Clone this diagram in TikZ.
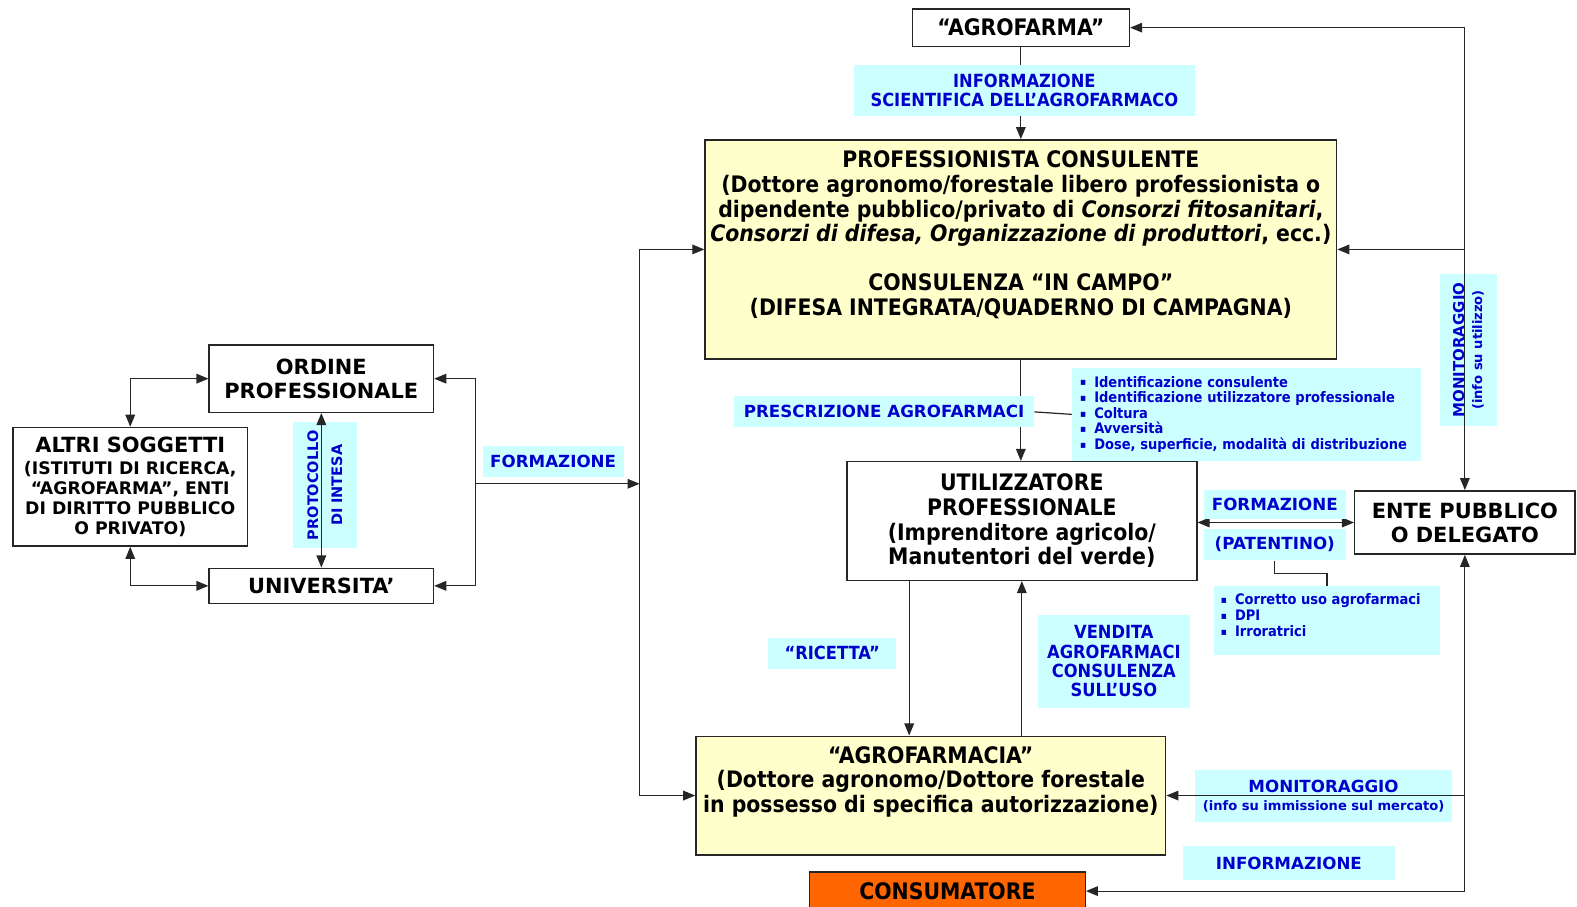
\documentclass[tikz,border=0pt]{standalone}
\usepackage{fontspec}
\setmainfont{DejaVu Sans}
\newfontfamily\cond{DejaVuSansCondensed}[Extension=.ttf, UprightFont=*, BoldFont=*-Bold, ItalicFont=*-Oblique, BoldItalicFont=*-BoldOblique]
\usepackage{tikz}
\usetikzlibrary{arrows.meta, positioning, calc}
\definecolor{labelblue}{RGB}{0,0,204}
\definecolor{labelcyan}{RGB}{204,255,255}
\definecolor{boxyellow}{RGB}{255,255,204}
\definecolor{consorange}{RGB}{255,102,0}
\newcommand{\bul}{\makebox[7pt][l]{\fontsize{5}{5}\selectfont\raisebox{0.6pt}{▪}}}

\begin{document}
\begin{tikzpicture}[
    x=0.5pt, y=-0.5pt,
    box/.style={draw=black!85, line width=0.7pt, fill=white, inner sep=0pt, align=center, font=\bfseries\fontsize{10.4}{12}\selectfont},
    narrowbox/.style={box, font=\cond\bfseries\fontsize{11.3}{12.25}\selectfont},
    bluetag/.style={fill=labelcyan, text=labelblue, inner sep=0pt, align=center, font=\bfseries\fontsize{8.3}{9}\selectfont},
    narrowtag/.style={bluetag, font=\cond\bfseries\fontsize{9}{9.6}\selectfont},
    listtext/.style={text=labelblue, inner sep=0pt, align=left, font=\cond\bfseries\fontsize{7.2}{7.75}\selectfont},
    conn/.style={draw=black!85, line width=0.6pt},
    arr/.style={conn, -{Triangle[length=6pt,width=4.8pt]}},
    arrs/.style={conn, {Triangle[length=6pt,width=4.8pt]}-{Triangle[length=6pt,width=4.8pt]}}
]
    \fill[white] (0,0) rectangle (1568,901);
    \useasboundingbox (0,0) rectangle (1568,901);

    % labels lying under the lines
    \node[bluetag, rotate=90, minimum width=62.5pt, minimum height=32pt, font=\bfseries\fontsize{7.2}{12}\selectfont] (protocollo) at (323,482.5) {PROTOCOLLO\\DI INTESA};
    \node[bluetag, rotate=90, minimum width=76pt, minimum height=28pt] (monitorU) at (1460,348) {{\fontsize{7.45}{10}\selectfont MONITORAGGIO}\\{\fontsize{6.5}{10}\selectfont (info su utilizzo)}};
    \node[bluetag, minimum width=128pt, minimum height=25.5pt] (monitorM) at (1316,791.5) {MONITORAGGIO\\{\fontsize{6.5}{9}\selectfont (info su immissione sul mercato)}};

    % left group
    \node[box, minimum width=111.5pt, minimum height=33.5pt] (ordine) at (319.5,376.5) {ORDINE\\PROFESSIONALE};
    \node[box, minimum width=111.5pt, minimum height=17.5pt] (universita) at (319.5,582.5) {UNIVERSITA’};
    \node[box, minimum width=116.5pt, minimum height=59pt] (altri) at (129.5,484) {ALTRI SOGGETTI\\[-1pt]{\fontsize{8.6}{9.75}\selectfont (ISTITUTI DI RICERCA,}\\[-2pt]{\fontsize{8.6}{9.75}\selectfont “AGROFARMA”, ENTI}\\[-2pt]{\fontsize{8.6}{9.75}\selectfont DI DIRITTO PUBBLICO}\\[-2pt]{\fontsize{8.6}{9.75}\selectfont O PRIVATO)}};

    % main chain
    \node[narrowbox, minimum width=108pt, minimum height=18.5pt] (agrofarma) at (1015,27.5) {“AGROFARMA”};
    \node[narrowbox, fill=boxyellow, minimum width=314pt, minimum height=109pt] (consulente) at (1015,248) {};
    \node[narrowbox, draw=none, fill=none, below=5.5pt of consulente.north] (consulenteTxt) {PROFESSIONISTA CONSULENTE\\(Dottore agronomo/forestale libero professionista o\\dipendente pubblico/privato di \textit{Consorzi fitosanitari},\\\textit{Consorzi di difesa, Organizzazione di produttori}, ecc.)\\[12.25pt]CONSULENZA “IN CAMPO”\\(DIFESA INTEGRATA/QUADERNO DI CAMPAGNA)};
    \node[narrowbox, minimum width=174pt, minimum height=59pt] (utilizzatore) at (1016,518) {UTILIZZATORE\\PROFESSIONALE\\(Imprenditore agricolo/\\Manutentori del verde)};
    \node[box, minimum width=109.5pt, minimum height=31.5pt] (ente) at (1456.5,519.5) {ENTE PUBBLICO\\O DELEGATO};
    \node[narrowbox, fill=boxyellow, minimum width=233.5pt, minimum height=59pt] (agrofarmacia) at (925.5,791) {};
    \node[narrowbox, draw=none, fill=none, below=5pt of agrofarmacia.north] (agrofarmaciaTxt) {“AGROFARMACIA”\\(Dottore agronomo/Dottore forestale\\in possesso di specifica autorizzazione)};
    \node[narrowbox, fill=consorange, minimum width=137pt, minimum height=19pt] (consumatore) at (942,886) {CONSUMATORE};

    % connectors
    \coordinate (fork) at (473,481);
    \coordinate (bus) at (636,481);
    \coordinate (giroSu) at (ente.north |- agrofarma.east);
    \coordinate (giroGiu) at (ente.south |- consumatore.east);
    \coordinate (ricettaA) at ($(utilizzatore.south)+(-112,0)$);

    \draw[arrs] (altri.north) |- (ordine.west);
    \draw[arrs] (altri.south) |- (universita.west);
    \draw[arrs] (ordine.south) -- (universita.north);
    \draw[arr] (fork) |- (ordine.east);
    \draw[arr] (fork) |- (universita.east);
    \draw[arr] (fork) -- (bus);
    \draw[arr] (bus) |- (consulente.west);
    \draw[arr] (bus) |- (agrofarmacia.west);

    \draw[arr] (agrofarma.south) -- (consulente.north);
    \draw[arr] (consulente.south) -- (consulente.south |- utilizzatore.north);
    \draw[arr] (ricettaA) -- (ricettaA |- agrofarmacia.north);
    \draw[arr] (utilizzatore.south |- agrofarmacia.north) -- (utilizzatore.south);
    \draw[arrs] (utilizzatore.east |- ente.west) -- (ente.west);

    \draw[arr] (giroSu) -- (agrofarma.east);
    \draw[arr] (giroSu) -- (ente.north);
    \draw[arr] (ente.north |- consulente.east) -- (consulente.east);
    \draw[arr] (giroGiu) -- (consumatore.east);
    \draw[arr] (giroGiu) -- (ente.south);
    \draw[arr] (ente.south |- agrofarmacia.east) -- (agrofarmacia.east);

    % labels lying over the lines
    \node[narrowtag, minimum width=169.5pt, minimum height=25pt] (infosci) at (1018.5,90) {INFORMAZIONE\\SCIENTIFICA DELL’AGROFARMACO};
    \node[bluetag, minimum width=70pt, minimum height=15.5pt] (formazioneA) at (550,458.5) {FORMAZIONE};
    \node[bluetag, minimum width=149pt, minimum height=15.5pt] (prescrizione) at (879,409.5) {PRESCRIZIONE AGROFARMACI};
    \node[listtext, fill=labelcyan, text width=165.5pt, inner xsep=4pt, minimum height=46pt] (elenco) at (1239.5,412) {\bul Identificazione consulente\\\bul Identificazione utilizzatore professionale\\\bul Coltura\\\bul Avversità\\\bul Dose, superficie, modalità di distribuzione};
    \node[bluetag, minimum width=70.5pt, minimum height=14.5pt] (formazioneB) at (1267.5,501.5) {FORMAZIONE};
    \node[bluetag, minimum width=70.5pt, minimum height=15.5pt] (patentino) at (1267.5,541.5) {(PATENTINO)};
    \node[fill=labelcyan, inner sep=0pt, minimum width=112.5pt, minimum height=34pt] (dettagli) at (1319.5,617) {};
    \node[listtext, anchor=north west, font=\cond\bfseries\fontsize{7.2}{8}\selectfont] (dettagliTxt) at ([xshift=3.5pt,yshift=-3.5pt]dettagli.north west) {\bul Corretto uso agrofarmaci\\\bul DPI\\\bul Irroratrici};
    \node[narrowtag, minimum width=63.5pt, minimum height=15.5pt] (ricetta) at (827.5,649.5) {“RICETTA”};
    \node[narrowtag, minimum width=75.5pt, minimum height=46.5pt] (vendita) at (1107.5,657.5) {VENDITA\\AGROFARMACI\\CONSULENZA\\SULL’USO};
    \node[bluetag, minimum width=105.5pt, minimum height=17pt] (informazione) at (1281.5,858) {INFORMAZIONE};

    \draw[conn] (prescrizione.east) -- (elenco.west);
    \draw[conn] (patentino.south) |- ($(patentino.south)!0.5!(dettagli.north)$) -| (dettagli.north);
\end{tikzpicture}
\end{document}
